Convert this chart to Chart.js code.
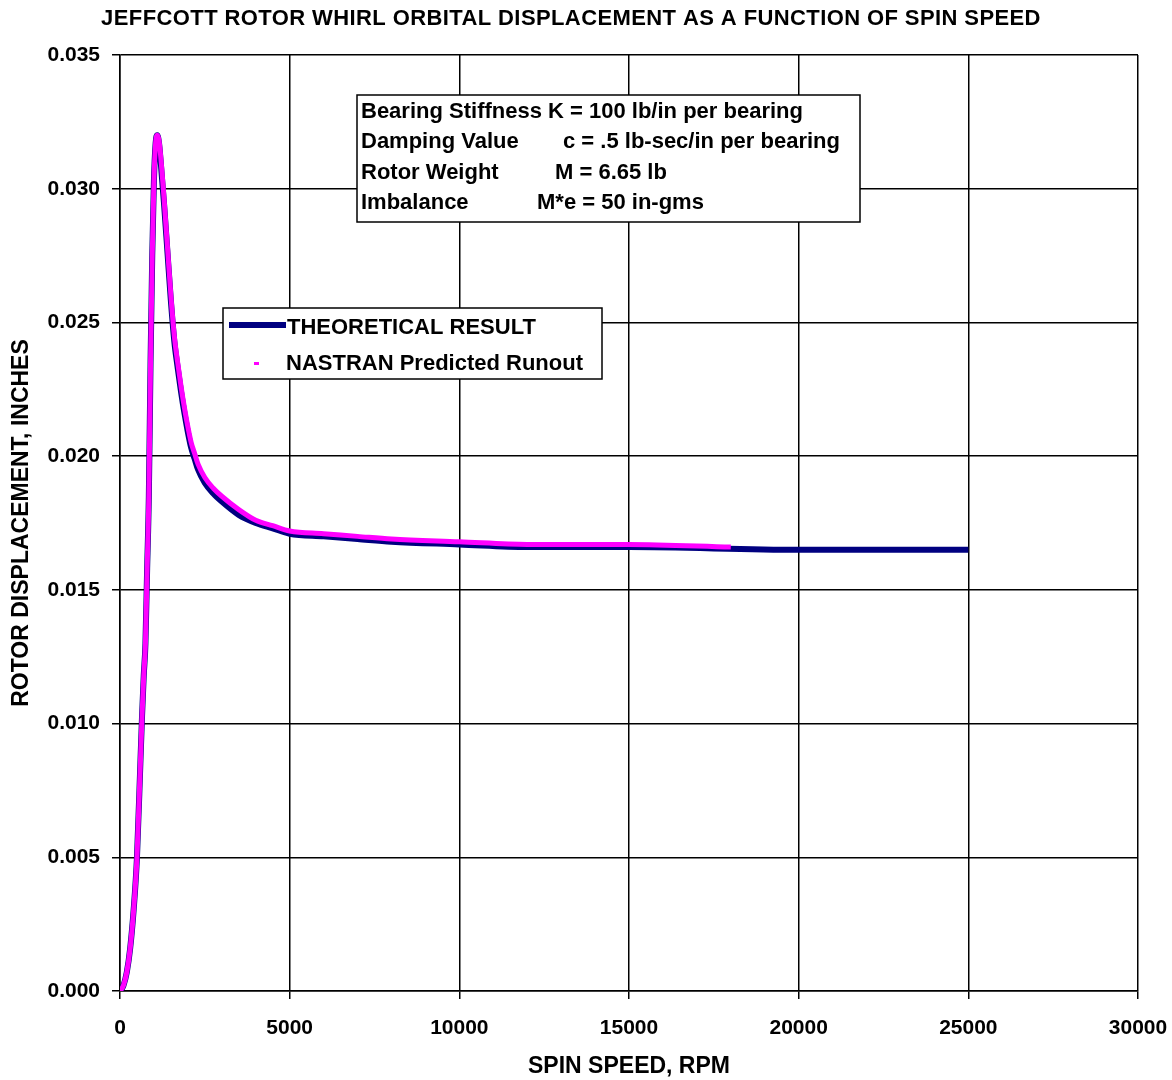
<!DOCTYPE html>
<html>
<head>
<meta charset="utf-8">
<script src="https://cdn.jsdelivr.net/npm/chart.js@4"></script>
<style>
  body { margin: 0; background: #fff; }
  #wrap { width: 1172px; height: 1080px; }
</style>
</head>
<body>
<div id="wrap"><canvas id="chart-rotor" width="1172" height="1080"></canvas></div>
<script>
// theoretical curve (rpm, inches)
const rpmTheory = [0, 100, 200, 300, 400, 500, 600, 650, 700, 750, 800, 850, 900, 950, 1000, 1050, 1100, 1150, 1200, 1300, 1400, 1500, 1600, 1700, 1800, 1900, 2000, 2100, 2200, 2300, 2500, 2750, 3000, 3500, 4000, 4500, 5000, 6000, 7000, 8000, 10000, 12000, 15000, 20000, 25000];
const dispTheory = [0, 0.0002, 0.0007, 0.0016, 0.003, 0.005, 0.0085, 0.0103, 0.0118, 0.0130, 0.0158, 0.0185, 0.0235, 0.0275, 0.0303, 0.0317, 0.0320, 0.0317, 0.0310, 0.0294, 0.0276, 0.0258, 0.0243, 0.0233, 0.0224, 0.0216, 0.0209, 0.0203, 0.0199, 0.0195, 0.0190, 0.0186, 0.0183, 0.0178, 0.0175, 0.0173, 0.0171, 0.0170, 0.0169, 0.0168, 0.0167, 0.0166, 0.0166, 0.0165, 0.0165];

// NASTRAN predicted runout
const rpmNastran = [0, 100, 200, 300, 400, 500, 600, 650, 700, 750, 800, 850, 900, 950, 1000, 1050, 1100, 1150, 1200, 1300, 1400, 1500, 1600, 1700, 1800, 1900, 2000, 2100, 2200, 2300, 2500, 2750, 3000, 3500, 4000, 4500, 5000, 6000, 7000, 8000, 10000, 12000, 15000, 18000];
const dispNastran = [0, 0.0002, 0.0007, 0.0016, 0.003, 0.005, 0.0085, 0.0103, 0.0118, 0.0130, 0.0158, 0.0185, 0.0235, 0.0275, 0.0303, 0.0317, 0.0320, 0.0318, 0.0312, 0.0296, 0.0278, 0.0260, 0.0245, 0.0235, 0.0226, 0.0218, 0.0211, 0.0205, 0.0201, 0.0197, 0.0192, 0.0188, 0.0185, 0.0180, 0.0176, 0.0174, 0.0172, 0.0171, 0.0170, 0.0169, 0.0168, 0.0167, 0.0167, 0.0166];

const yTicks = [0, 0.005, 0.010, 0.015, 0.020, 0.025, 0.030, 0.035];
const xTicks = [0, 5000, 10000, 15000, 20000, 25000, 30000];

const FONT = "'Liberation Sans', Arial, sans-serif";

function toPoints(xs, ys) {
  return xs.map((x, i) => ({ x: x, y: ys[i] }));
}

// title, legend and parameter box
const overlay = {
  id: 'overlay',
  afterDraw(chart) {
    const ctx = chart.ctx;
    ctx.save();
    ctx.fillStyle = '#000';
    ctx.textBaseline = 'middle';
    ctx.font = 'bold 22px ' + FONT;
    ctx.textAlign = 'center';
    ctx.letterSpacing = '0.4px';
    ctx.fillText('JEFFCOTT ROTOR WHIRL ORBITAL DISPLACEMENT AS A FUNCTION OF SPIN SPEED', 571, 19);
    ctx.letterSpacing = '0px';

    // parameter box
    ctx.fillStyle = '#fff';
    ctx.fillRect(357, 95, 503, 127);
    ctx.strokeStyle = '#000';
    ctx.lineWidth = 1.5;
    ctx.strokeRect(357, 95, 503, 127);
    ctx.fillStyle = '#000';
    ctx.textAlign = 'left';
    ctx.font = 'bold 22px ' + FONT;
    ctx.fillText('Bearing Stiffness K = 100 lb/in per bearing', 361, 112);
    ctx.fillText('Damping Value', 361, 142);
    ctx.fillText('c = .5 lb-sec/in per bearing', 563, 142);
    ctx.fillText('Rotor Weight', 361, 173);
    ctx.fillText('M = 6.65 lb', 555, 173);
    ctx.fillText('Imbalance', 361, 203);
    ctx.fillText('M*e = 50 in-gms', 537, 203);

    // legend
    ctx.fillStyle = '#fff';
    ctx.fillRect(223, 308, 379, 71);
    ctx.strokeRect(223, 308, 379, 71);
    ctx.fillStyle = '#000080';
    ctx.fillRect(229, 322, 57, 6);
    ctx.fillStyle = '#ff00ff';
    ctx.fillRect(254, 362, 5, 3);
    ctx.fillStyle = '#000';
    ctx.fillText('THEORETICAL RESULT', 287, 328);
    ctx.fillText('NASTRAN Predicted Runout', 286, 364);
    ctx.restore();
  }
};

new Chart(document.getElementById('chart-rotor'), {
  type: 'line',
  data: {
    datasets: [{
      label: 'NASTRAN Predicted Runout',
      data: toPoints(rpmNastran, dispNastran),
      borderColor: '#ff00ff',
      borderWidth: 5,
      pointRadius: 0,
      cubicInterpolationMode: 'monotone',
      order: 1
    }, {
      label: 'THEORETICAL RESULT',
      data: toPoints(rpmTheory, dispTheory),
      borderColor: '#000080',
      borderWidth: 6,
      pointRadius: 0,
      cubicInterpolationMode: 'monotone',
      order: 2
    }]
  },
  options: {
    responsive: false,
    animation: false,
    devicePixelRatio: 1,
    layout: { padding: { top: 55, right: 34, left: 0, bottom: 0 } },
    plugins: {
      legend: { display: false },
      tooltip: { enabled: false }
    },
    scales: {
      x: {
        type: 'linear',
        min: 0,
        max: 30000,
        afterBuildTicks: (s) => { s.ticks = xTicks.map(v => ({ value: v })); },
        afterFit: (s) => { s.height = 89; s.paddingRight = 0; s.paddingLeft = 0; },
        grid: { color: '#000', lineWidth: 1.5, tickLength: 8 },
        border: { color: '#000', width: 1.5 },
        ticks: {
          color: '#000',
          font: { family: FONT, size: 21, weight: 'bold' },
          padding: 17,
          maxRotation: 0,
          callback: (v) => String(v)
        },
        title: { display: true, text: 'SPIN SPEED, RPM', color: '#000', font: { family: FONT, size: 23, weight: 'bold' }, padding: { top: 0, bottom: 0 } }
      },
      y: {
        min: 0,
        max: 0.035,
        afterBuildTicks: (s) => { s.ticks = yTicks.map(v => ({ value: v })); },
        afterFit: (s) => { s.width = 120; },
        grid: { color: '#000', lineWidth: 1.5, tickLength: 8 },
        border: { color: '#000', width: 1.5 },
        ticks: {
          color: '#000',
          font: { family: FONT, size: 21, weight: 'bold' },
          padding: 12,
          callback: (v) => v.toFixed(3)
        },
        title: { display: true, text: 'ROTOR DISPLACEMENT, INCHES', color: '#000', font: { family: FONT, size: 23, weight: 'bold' }, padding: { top: 8, bottom: 0 } }
      }
    }
  },
  plugins: [overlay]
});
</script>
</body>
</html>
